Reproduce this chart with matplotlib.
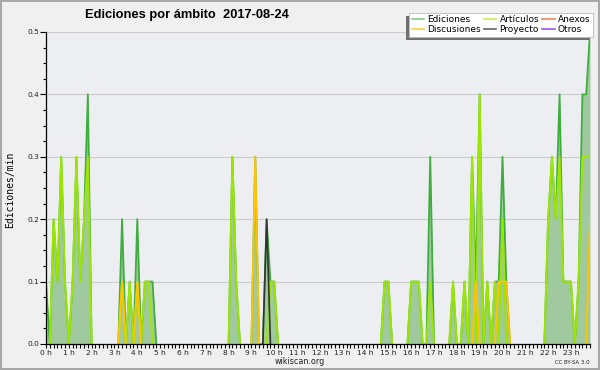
import numpy as np
import matplotlib
matplotlib.use("Agg")
import matplotlib.pyplot as plt
from matplotlib.lines import Line2D
from matplotlib.patches import Rectangle
from matplotlib.transforms import IdentityTransform
from matplotlib.ticker import MultipleLocator, FixedLocator, FormatStrFormatter

# ---------------- data (edits per minute, 10-minute slots, 6 per hour) ----------------
hour_labels = ["0 h", "1 h", "2 h", "3 h", "4 h", "5 h", "6 h", "7 h", "8 h", "9 h",
               "10 h", "11 h", "12 h", "13 h", "14 h", "15 h", "16 h", "17 h", "18 h",
               "19 h", "20 h", "21 h", "22 h", "23 h"]

ediciones = [
    0.1, 0.0, 0.2, 0.1, 0.3, 0.1,   # 0 h
    0.0, 0.1, 0.3, 0.1, 0.2, 0.4,   # 1 h
    0.0, 0.0, 0.0, 0.0, 0.0, 0.0,   # 2 h
    0.0, 0.0, 0.2, 0.0, 0.1, 0.0,   # 3 h
    0.2, 0.0, 0.1, 0.1, 0.1, 0.0,   # 4 h
    0.0, 0.0, 0.0, 0.0, 0.0, 0.0,   # 5 h
    0.0, 0.0, 0.0, 0.0, 0.0, 0.0,   # 6 h
    0.0, 0.0, 0.0, 0.0, 0.0, 0.0,   # 7 h
    0.0, 0.3, 0.1, 0.0, 0.0, 0.0,   # 8 h
    0.0, 0.3, 0.0, 0.0, 0.2, 0.1,   # 9 h
    0.1, 0.0, 0.0, 0.0, 0.0, 0.0,   # 10 h
    0.0, 0.0, 0.0, 0.0, 0.0, 0.0,   # 11 h
    0.0, 0.0, 0.0, 0.0, 0.0, 0.0,   # 12 h
    0.0, 0.0, 0.0, 0.0, 0.0, 0.0,   # 13 h
    0.0, 0.0, 0.0, 0.0, 0.0, 0.1,   # 14 h
    0.1, 0.0, 0.0, 0.0, 0.0, 0.0,   # 15 h
    0.1, 0.1, 0.1, 0.0, 0.0, 0.3,   # 16 h
    0.0, 0.0, 0.0, 0.0, 0.0, 0.1,   # 17 h
    0.0, 0.0, 0.1, 0.0, 0.3, 0.1,   # 18 h
    0.4, 0.0, 0.1, 0.0, 0.1, 0.1,   # 19 h
    0.3, 0.1, 0.0, 0.0, 0.0, 0.0,   # 20 h
    0.0, 0.0, 0.0, 0.0, 0.0, 0.0,   # 21 h
    0.2, 0.3, 0.2, 0.4, 0.1, 0.1,   # 22 h
    0.1, 0.0, 0.1, 0.4, 0.4, 0.5,   # 23 h
]

articulos = [
    0.0, 0.0, 0.2, 0.1, 0.3, 0.1,
    0.0, 0.1, 0.3, 0.1, 0.2, 0.3,
    0.0, 0.0, 0.0, 0.0, 0.0, 0.0,
    0.0, 0.0, 0.1, 0.0, 0.1, 0.0,
    0.1, 0.0, 0.1, 0.1, 0.0, 0.0,
    0.0, 0.0, 0.0, 0.0, 0.0, 0.0,
    0.0, 0.0, 0.0, 0.0, 0.0, 0.0,
    0.0, 0.0, 0.0, 0.0, 0.0, 0.0,
    0.0, 0.3, 0.1, 0.0, 0.0, 0.0,
    0.0, 0.0, 0.0, 0.0, 0.0, 0.1,
    0.1, 0.0, 0.0, 0.0, 0.0, 0.0,
    0.0, 0.0, 0.0, 0.0, 0.0, 0.0,
    0.0, 0.0, 0.0, 0.0, 0.0, 0.0,
    0.0, 0.0, 0.0, 0.0, 0.0, 0.0,
    0.0, 0.0, 0.0, 0.0, 0.0, 0.1,
    0.1, 0.0, 0.0, 0.0, 0.0, 0.0,
    0.1, 0.1, 0.1, 0.0, 0.0, 0.1,
    0.0, 0.0, 0.0, 0.0, 0.0, 0.1,
    0.0, 0.0, 0.1, 0.0, 0.3, 0.0,
    0.4, 0.0, 0.1, 0.0, 0.1, 0.0,
    0.2, 0.0, 0.0, 0.0, 0.0, 0.0,
    0.0, 0.0, 0.0, 0.0, 0.0, 0.0,
    0.2, 0.3, 0.2, 0.3, 0.1, 0.1,
    0.1, 0.0, 0.1, 0.3, 0.3, 0.3,
]

discusiones = [
    0.0, 0.0, 0.0, 0.0, 0.0, 0.0,
    0.0, 0.0, 0.0, 0.0, 0.0, 0.0,
    0.0, 0.0, 0.0, 0.0, 0.0, 0.0,
    0.0, 0.0, 0.1, 0.0, 0.0, 0.0,
    0.1, 0.0, 0.0, 0.0, 0.0, 0.0,
    0.0, 0.0, 0.0, 0.0, 0.0, 0.0,
    0.0, 0.0, 0.0, 0.0, 0.0, 0.0,
    0.0, 0.0, 0.0, 0.0, 0.0, 0.0,
    0.0, 0.0, 0.0, 0.0, 0.0, 0.0,
    0.0, 0.3, 0.0, 0.0, 0.0, 0.0,
    0.0, 0.0, 0.0, 0.0, 0.0, 0.0,
    0.0, 0.0, 0.0, 0.0, 0.0, 0.0,
    0.0, 0.0, 0.0, 0.0, 0.0, 0.0,
    0.0, 0.0, 0.0, 0.0, 0.0, 0.0,
    0.0, 0.0, 0.0, 0.0, 0.0, 0.0,
    0.0, 0.0, 0.0, 0.0, 0.0, 0.0,
    0.0, 0.0, 0.0, 0.0, 0.0, 0.0,
    0.0, 0.0, 0.0, 0.0, 0.0, 0.0,
    0.0, 0.0, 0.0, 0.0, 0.0, 0.1,
    0.0, 0.0, 0.0, 0.0, 0.0, 0.1,
    0.1, 0.1, 0.0, 0.0, 0.0, 0.0,
    0.0, 0.0, 0.0, 0.0, 0.0, 0.0,
    0.0, 0.0, 0.0, 0.0, 0.0, 0.0,
    0.0, 0.0, 0.0, 0.0, 0.0, 0.2,
]

proyecto = [0.0] * 58 + [0.2] + [0.0] * 85
anexos = [0.0] * 144
otros = [0.0] * 144

series_names = ["Ediciones", "Discusiones", "Artículos", "Proyecto", "Anexos", "Otros"]
legend_colors = ["#88cc88", "#ffcc44", "#c8ee55", "#666666", "#ee8855", "#9955ee"]

# ---------------- helpers ----------------
def hide_flat_zero(vals):
    v = np.array(vals, dtype=float)
    out = v.copy()
    n = len(v)
    for i in range(n):
        if v[i] == 0:
            left = v[i - 1] if i > 0 else 0
            right = v[i + 1] if i < n - 1 else 0
            if left == 0 and right == 0:
                out[i] = np.nan
    return out

# ---------------- figure ----------------
W, H = 600, 370
fig = plt.figure(figsize=(W / 100, H / 100), dpi=100, facecolor="#f0f0f0")
fig.patch.set_edgecolor("#a8a8a8")
fig.patch.set_linewidth(1.5)

ax = fig.add_axes([46 / W, 26 / H, 544 / W, 312 / H])
ax.set_facecolor("#eceef1")

x = np.arange(len(ediciones))
ax.fill_between(x, ediciones, 0, color="#a0c9a0", lw=0, zorder=2)
ax.plot(x, hide_flat_zero(ediciones), color="#3fae3f", lw=1.3, zorder=3)
ax.plot(x, hide_flat_zero(articulos), color="#9de600", lw=1.4, zorder=4)
ax.plot(x, hide_flat_zero(discusiones), color="#ffc400", lw=1.4, zorder=5)
ax.plot(x, hide_flat_zero(proyecto), color="#333333", lw=1.2, zorder=6)
ax.plot(x, hide_flat_zero(anexos), color="#ee8855", lw=1.2, zorder=5)
ax.plot(x, hide_flat_zero(otros), color="#9955ee", lw=1.2, zorder=5)

ax.set_xlim(0, len(ediciones) - 1)
ax.set_ylim(0, 0.5)

ax.xaxis.set_major_locator(FixedLocator(np.arange(0, 144, 6)))
ax.set_xticklabels(hour_labels)
ax.xaxis.set_minor_locator(MultipleLocator(1))
ax.yaxis.set_major_locator(MultipleLocator(0.1))
ax.yaxis.set_minor_locator(MultipleLocator(0.025))
ax.yaxis.set_major_formatter(FormatStrFormatter("%.1f"))

ax.tick_params(axis="x", which="both", direction="out", length=3, width=0.8,
               labelsize=5.4, pad=1, colors="black", labelcolor="#222222")
ax.tick_params(axis="y", which="major", direction="out", length=4, width=0.8,
               labelsize=5.4, pad=1, labelcolor="#222222")
ax.tick_params(axis="y", which="minor", direction="out", length=2.5, width=0.8)

ax.grid(axis="y", which="major", color="#cccccc", lw=0.8, zorder=1)
ax.set_axisbelow(True)
for s in ["top", "right"]:
    ax.spines[s].set_visible(False)
for s in ["left", "bottom"]:
    ax.spines[s].set_linewidth(0.9)
    ax.spines[s].set_color("black")
    ax.spines[s].set_zorder(10)

# texts
fig.text(85 / W, 1 - 15 / H, "Ediciones por ámbito  2017-08-24",
         family="Liberation Sans", weight="bold", fontsize=9.3,
         ha="left", va="center")
fig.text(10 / W, 1 - 190 / H, "Ediciones/min", family="DejaVu Sans Mono",
         fontsize=7, rotation=90, ha="center", va="center")
fig.text(300 / W, 1 - 362 / H, "wikiscan.org", fontsize=5.8, ha="center",
         va="center", color="#222222")
fig.text(590 / W, 1 - 362 / H, "CC BY-SA 3.0", fontsize=3.9, ha="right",
         va="center", color="#222222")

# legend
handles = [Line2D([0], [0], color=c, lw=1.2) for c in legend_colors]
leg = fig.legend(handles, series_names, ncol=3, loc="upper right",
                 bbox_to_anchor=(593 / W, 1 - 12.7 / H), borderaxespad=0,
                 fontsize=6.5, handlelength=1.35, handletextpad=0.35,
                 columnspacing=0.35, labelspacing=0.1, borderpad=0.3,
                 fancybox=False, framealpha=1)
leg.get_frame().set_facecolor("white")
leg.get_frame().set_edgecolor("#bbbbbb")
leg.get_frame().set_linewidth(0.6)
leg.set_zorder(20)

fig.canvas.draw()
bb = leg.get_window_extent(fig.canvas.get_renderer())
shadow = Rectangle((bb.x0 - 3, bb.y0 - 3), bb.width, bb.height,
                   transform=IdentityTransform(), facecolor="#707070",
                   edgecolor="none", zorder=19)
fig.add_artist(shadow)

fig.savefig("out.png", dpi=100, facecolor=fig.get_facecolor(),
            edgecolor=fig.get_edgecolor())
